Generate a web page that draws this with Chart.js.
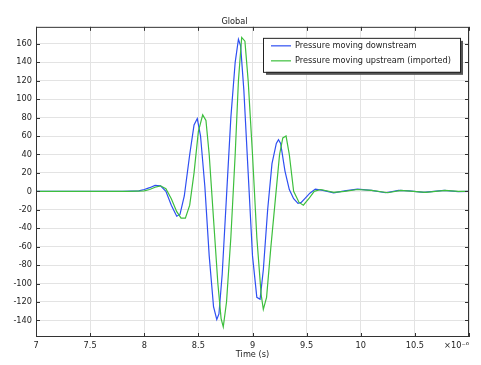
<!DOCTYPE html>
<html>
<head>
<meta charset="utf-8">
<script src="https://cdn.jsdelivr.net/npm/chart.js@4.4.0/dist/chart.umd.min.js"></script>
<style>
html, body { margin: 0; padding: 0; background: #fff; }
</style>
</head>
<body>
<canvas id="chart" width="481" height="365"></canvas>
<script>
// Thời gian (µs) và áp suất của sóng đi xuôi dòng
const downTime = [7.0, 7.8, 7.95, 8.0, 8.05, 8.1, 8.15, 8.2, 8.25, 8.3, 8.33, 8.37, 8.42, 8.46, 8.49, 8.52, 8.56, 8.6, 8.64, 8.67, 8.69, 8.72, 8.76, 8.8, 8.84, 8.87, 8.89, 8.92, 8.96, 9.0, 9.04, 9.07, 9.1, 9.14, 9.18, 9.22, 9.24, 9.26, 9.3, 9.34, 9.38, 9.42, 9.45, 9.49, 9.53, 9.58, 9.65, 9.75, 9.85, 9.97, 10.1, 10.23, 10.35, 10.45, 10.58, 10.77, 10.9, 11.0];
const downValue = [0, 0, 0.5, 2, 4, 6.5, 6, 0, -15, -27, -25, -5, 40, 72, 79, 60, 5, -70, -125, -139, -133, -90, -5, 80, 140, 165, 158, 110, 20, -70, -115, -117, -85, -20, 30, 52, 56, 52, 22, 2, -8, -13, -12, -7, -2, 2.5, 1, -1.7, 0.5, 2.5, 1, -1.5, 1, 0.5, -1, 1, -0.3, 0];

// Thời gian (µs) và áp suất của sóng đi ngược dòng (dữ liệu nhập)
const upTime = [7.0, 7.85, 8.0, 8.05, 8.1, 8.15, 8.2, 8.25, 8.3, 8.34, 8.38, 8.42, 8.46, 8.5, 8.54, 8.57, 8.6, 8.64, 8.68, 8.71, 8.73, 8.76, 8.8, 8.84, 8.87, 8.9, 8.93, 8.96, 9.0, 9.04, 9.08, 9.1, 9.13, 9.17, 9.21, 9.25, 9.28, 9.31, 9.34, 9.38, 9.43, 9.47, 9.52, 9.57, 9.63, 9.75, 9.85, 9.97, 10.1, 10.25, 10.37, 10.6, 10.78, 10.9, 11.0];
const upValue = [0, 0, 0.5, 2, 4.5, 6, 3, -8, -22, -29, -29, -15, 20, 65, 83, 77, 40, -30, -100, -138, -147, -120, -50, 40, 120, 167, 163, 120, 40, -50, -112, -128, -115, -60, -10, 40, 58, 60, 40, 0, -12, -15, -8, 0, 2, -1, 0, 2, 1, -1.5, 1, -1, 1, 0, 0];

const seriesNames = ['Pressure moving downstream', 'Pressure moving upstream (imported)'];
const seriesColors = ['#2e4ff2', '#3dbf3d'];

const xTickValues = [7, 7.5, 8, 8.5, 9, 9.5, 10, 10.5, 11];
const yTickValues = [-140, -120, -100, -80, -60, -40, -20, 0, 20, 40, 60, 80, 100, 120, 140, 160];

const fontFamily = '"DejaVu Sans", sans-serif';
const fontSize = 8.2;

function toPoints(times, values) {
    return times.map((t, i) => ({ x: t, y: values[i] }));
}

// Khung, vạch chia hướng vào trong, chú thích và hệ số ×10⁻⁶
const framePlugin = {
    id: 'frame',
    afterDatasetsDraw(chart) {
        const ctx = chart.ctx;
        const a = chart.chartArea;
        const xs = chart.scales.x;
        const ys = chart.scales.y;
        ctx.save();
        ctx.strokeStyle = '#333';
        ctx.lineWidth = 1;
        ctx.strokeRect(a.left + 0.5, a.top + 0.5, a.right - a.left - 1, a.bottom - a.top - 1);

        ctx.beginPath();
        xTickValues.forEach(v => {
            const px = Math.round(xs.getPixelForValue(v)) + 0.5;
            ctx.moveTo(px, a.bottom); ctx.lineTo(px, a.bottom - 4);
            ctx.moveTo(px, a.top); ctx.lineTo(px, a.top + 4);
        });
        yTickValues.forEach(v => {
            const py = Math.round(ys.getPixelForValue(v)) + 0.5;
            ctx.moveTo(a.left, py); ctx.lineTo(a.left + 4, py);
            ctx.moveTo(a.right, py); ctx.lineTo(a.right - 4, py);
        });
        ctx.stroke();

        // chú thích
        const w = 197, h = 34;
        const left = a.right - 206, top = a.top + 11;
        ctx.fillStyle = '#555';
        ctx.fillRect(left + 3, top + 3, w, h);
        ctx.fillStyle = '#fff';
        ctx.fillRect(left, top, w, h);
        ctx.strokeStyle = '#222';
        ctx.strokeRect(left + 0.5, top + 0.5, w, h);
        ctx.font = fontSize + 'px ' + fontFamily;
        ctx.textBaseline = 'middle';
        ctx.textAlign = 'left';
        seriesNames.forEach((name, i) => {
            const y = top + 8 + i * 15;
            ctx.strokeStyle = seriesColors[i];
            ctx.lineWidth = 1.2;
            ctx.beginPath();
            ctx.moveTo(left + 8, y);
            ctx.lineTo(left + 28, y);
            ctx.stroke();
            ctx.fillStyle = '#222';
            ctx.fillText(name, left + 32, y);
        });

        // hệ số trục x
        ctx.textAlign = 'right';
        ctx.textBaseline = 'top';
        ctx.fillStyle = '#222';
        ctx.fillText('×10⁻⁶', a.right, a.bottom + 5);
        ctx.restore();
    }
};

const chart = new Chart(document.getElementById('chart'), {
    type: 'line',
    data: {
        datasets: [{
            label: seriesNames[0],
            data: toPoints(downTime, downValue),
            borderColor: seriesColors[0],
            borderWidth: 1.2,
            pointRadius: 0,
            tension: 0,
            order: 1
        }, {
            label: seriesNames[1],
            data: toPoints(upTime, upValue),
            borderColor: seriesColors[1],
            borderWidth: 1.2,
            pointRadius: 0,
            tension: 0,
            order: 0
        }]
    },
    options: {
        responsive: false,
        animation: false,
        layout: { padding: { left: 0, right: 12, top: 0, bottom: 0 } },
        plugins: {
            legend: { display: false },
            tooltip: { enabled: false },
            title: {
                display: true,
                text: 'Global',
                color: '#222',
                font: { family: fontFamily, size: fontSize, weight: 'normal' },
                padding: { top: 17, bottom: 0 }
            }
        },
        scales: {
            x: {
                type: 'linear',
                min: 7,
                max: 11,
                afterBuildTicks: axis => { axis.ticks = xTickValues.map(v => ({ value: v })); },
                afterFit: axis => { axis.height = 28; },
                grid: { color: '#e3e3e3', drawTicks: false },
                border: { display: false },
                ticks: {
                    autoSkip: false,
                    maxRotation: 0,
                    padding: 4,
                    color: '#222',
                    font: { family: fontFamily, size: fontSize },
                    callback: v => (v === 11 ? '' : String(v))
                },
                title: {
                    display: true,
                    text: 'Time (s)',
                    color: '#222',
                    font: { family: fontFamily, size: fontSize },
                    padding: { top: 0, bottom: 5 }
                }
            },
            y: {
                min: -158,
                max: 178.5,
                afterBuildTicks: axis => { axis.ticks = yTickValues.map(v => ({ value: v })); },
                afterFit: axis => { axis.width = 36; },
                grid: { color: '#e3e3e3', drawTicks: false },
                border: { display: false },
                ticks: {
                    padding: 4,
                    color: '#222',
                    font: { family: fontFamily, size: fontSize }
                }
            }
        }
    },
    plugins: [framePlugin]
});
</script>
</body>
</html>
